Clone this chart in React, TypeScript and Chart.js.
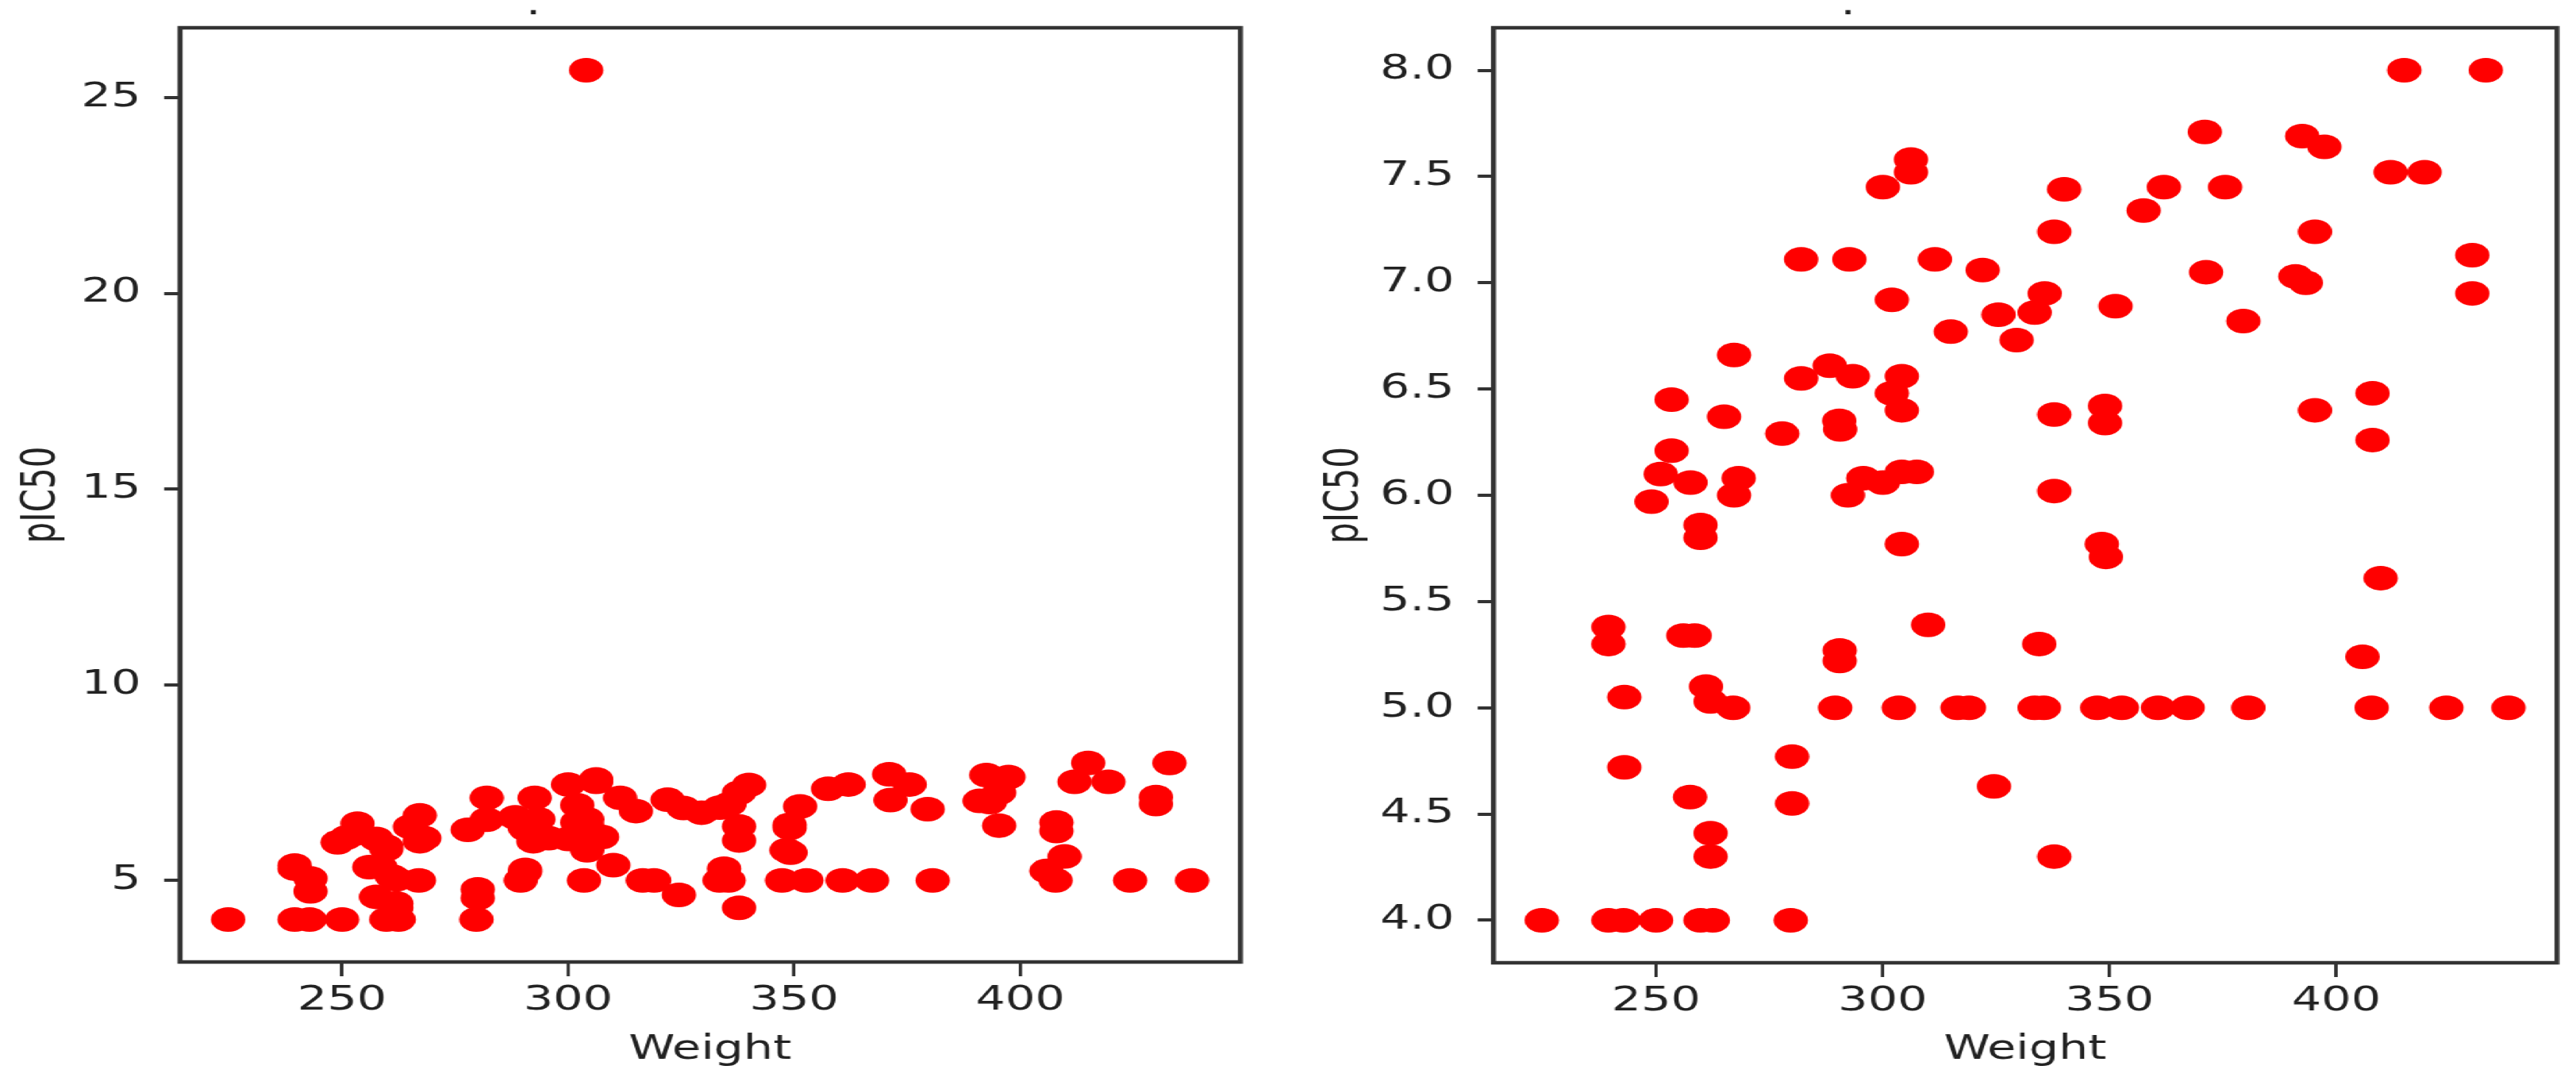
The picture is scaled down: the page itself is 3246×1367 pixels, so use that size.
import React, { useEffect, useRef } from 'react';
import { Chart, registerables } from 'chart.js';

Chart.register(...registerables);

// ---------------- data ----------------
const weight = [
  224.8, 239.5, 242.8, 250.0, 259.8, 262.5, 279.7, 239.5, 239.5, 243.0,
  243.0, 256.0, 258.5, 261.0, 262.0, 267.0, 257.5, 262.0, 262.0, 280.0,
  280.0, 289.5, 290.5, 290.5, 303.5, 310.0, 316.5, 319.0, 324.5, 333.5,
  335.5, 334.5, 337.8, 347.3, 352.7, 360.7, 367.2, 380.6, 407.8, 424.3,
  438.0, 405.8, 409.8, 408.0, 408.0, 395.3, 395.3, 391.0, 393.3, 392.5,
  397.4, 415.0, 433.0, 412.0, 419.5, 430.0, 430.0, 371.0, 375.5, 362.0,
  357.5, 371.3, 379.5, 351.3, 349.0, 349.0, 348.3, 349.2, 340.0, 337.8,
  335.7, 333.5, 329.5, 325.5, 322.0, 315.0, 311.5, 337.8, 337.8, 306.2,
  306.2, 300.0, 302.0, 304.2, 302.0, 304.2, 300.0, 304.2, 307.5, 304.2,
  295.7, 292.3, 290.4, 290.6, 288.3, 293.4, 282.0, 282.0, 292.6, 277.8,
  267.2, 265.0, 268.2, 267.2, 253.4, 253.4, 251.0, 257.6, 249.0, 259.8,
  259.8,
];
const pIC50 = [
  4.0, 4.0, 4.0, 4.0, 4.0, 4.0, 4.0, 5.38, 5.30, 5.05,
  4.72, 5.34, 5.34, 5.10, 5.03, 5.0, 4.58, 4.41, 4.30, 4.77,
  4.55, 5.0, 5.27, 5.22, 5.0, 5.39, 5.0, 5.0, 4.63, 5.0,
  5.0, 5.30, 4.30, 5.0, 5.0, 5.0, 5.0, 5.0, 5.0, 5.0,
  5.0, 5.24, 5.61, 6.26, 6.48, 6.40, 7.24, 7.03, 7.00, 7.69,
  7.64, 8.0, 8.0, 7.52, 7.52, 7.13, 6.95, 7.71, 7.45, 7.45,
  7.34, 7.05, 6.82, 6.89, 6.42, 6.34, 5.77, 5.71, 7.44, 7.24,
  6.95, 6.86, 6.73, 6.85, 7.06, 6.77, 7.11, 6.38, 6.02, 7.58,
  7.52, 7.45, 6.92, 6.56, 6.48, 6.40, 6.06, 6.11, 6.11, 5.77,
  6.08, 6.00, 6.35, 6.31, 6.61, 6.56, 6.55, 7.11, 7.11, 6.29,
  6.66, 6.37, 6.08, 6.00, 6.45, 6.21, 6.10, 6.06, 5.97, 5.86,
  5.80,
];
// the single extreme value shown only in the left panel
const outlierWeight = [304.0];
const outlierPIC50 = [25.7];

const xTicks = [250, 300, 350, 400];
const yTicksLeft = [5, 10, 15, 20, 25];
const yTicksRight = [4.0, 4.5, 5.0, 5.5, 6.0, 6.5, 7.0, 7.5, 8.0];
const xLabel = 'Weight';
const yLabel = 'pIC50';

// ---------------- layout ----------------
const PAGE_W = 3246;
const PAGE_H = 1367;
const STRETCH = 1.4; // the reference is stretched horizontally
const INNER_W = PAGE_W / STRETCH;
const FONT_FAMILY = "'DejaVu Sans', sans-serif";
const FONT_SIZE = 42;
const TEXT_COLOR = '#222';
const LINE_COLOR = '#333';
const DOT_COLOR = '#ff0000';

function autoLimits(vals: number[]): [number, number] {
  const mn = Math.min(...vals);
  const mx = Math.max(...vals);
  const m = (mx - mn) * 0.05;
  return [mn - m, mx + m];
}

const framePlugin = {
  id: 'frame',
  afterDraw(chart: any) {
    const { ctx, chartArea: a } = chart;
    ctx.save();
    ctx.strokeStyle = LINE_COLOR;
    ctx.lineWidth = 4.5;
    ctx.strokeRect(a.left, a.top, a.right - a.left, a.bottom - a.top);
    ctx.fillStyle = TEXT_COLOR;
    ctx.font = `${FONT_SIZE}px ${FONT_FAMILY}`;
    ctx.textAlign = 'center';
    ctx.textBaseline = 'alphabetic';
    ctx.fillText('.', a.left + (a.right - a.left) / 3, 18);
    ctx.restore();
  },
};

interface PanelCfg {
  xs: number[];
  ys: number[];
  yTicks: number[];
  yDecimals: number;
  yAxisWidth: number;
  xAxisHeight: number;
  padRight: number;
  yTitlePad: number;
}

function makeConfig(c: PanelCfg): any {
  const points = c.xs.map((x, i) => ({ x, y: c.ys[i] }));
  const [xmin, xmax] = autoLimits(c.xs);
  const [ymin, ymax] = autoLimits(c.ys);
  const font = { family: FONT_FAMILY, size: FONT_SIZE };
  return {
    type: 'scatter',
    data: {
      datasets: [
        {
          data: points,
          backgroundColor: DOT_COLOR,
          borderWidth: 0,
          pointRadius: 15.5,
          pointHoverRadius: 15.5,
        },
      ],
    },
    options: {
      animation: false,
      responsive: true,
      maintainAspectRatio: false,
      events: [],
      layout: { padding: { top: 35, right: c.padRight, bottom: 0, left: 0 } },
      plugins: { legend: { display: false }, tooltip: { enabled: false } },
      scales: {
        x: {
          type: 'linear',
          min: xmin,
          max: xmax,
          afterFit: (s: any) => {
            s.height = c.xAxisHeight;
            s.paddingLeft = 0;
            s.paddingRight = 0;
          },
          afterBuildTicks: (s: any) => {
            s.ticks = xTicks.map((v) => ({ value: v }));
          },
          grid: {
            display: true,
            drawOnChartArea: false,
            drawTicks: true,
            tickLength: 18,
            color: LINE_COLOR,
            lineWidth: 3,
          },
          border: { display: false },
          ticks: {
            color: TEXT_COLOR,
            font,
            padding: 6,
            maxRotation: 0,
            autoSkip: false,
            callback: (v: any) => String(v),
          },
          title: {
            display: true,
            text: xLabel,
            color: TEXT_COLOR,
            font,
            padding: { top: 0, bottom: 19 },
          },
        },
        y: {
          type: 'linear',
          min: ymin,
          max: ymax,
          afterFit: (s: any) => {
            s.width = c.yAxisWidth;
            s.paddingTop = 0;
            s.paddingBottom = 0;
          },
          afterBuildTicks: (s: any) => {
            s.ticks = c.yTicks.map((v) => ({ value: v }));
          },
          grid: {
            display: true,
            drawOnChartArea: false,
            drawTicks: true,
            tickLength: 14.3,
            color: LINE_COLOR,
            lineWidth: 4,
          },
          border: { display: false },
          ticks: {
            color: TEXT_COLOR,
            font,
            padding: 21,
            autoSkip: false,
            callback: (v: any) => Number(v).toFixed(c.yDecimals),
          },
          title: {
            display: true,
            text: yLabel,
            color: TEXT_COLOR,
            font,
            padding: { top: c.yTitlePad, bottom: 0 },
          },
        },
      },
    },
    plugins: [framePlugin],
  };
}

function Panel({ cfg, left, width }: { cfg: PanelCfg; left: number; width: number }) {
  const ref = useRef<HTMLCanvasElement | null>(null);
  useEffect(() => {
    if (!ref.current) return;
    const chart = new Chart(ref.current, makeConfig(cfg));
    return () => chart.destroy();
  }, []);
  return (
    <div style={{ position: 'absolute', left, top: 0, width, height: PAGE_H }}>
      <canvas ref={ref} />
    </div>
  );
}

const LEFT_W = 1171;
const RIGHT_W = Math.floor(INNER_W) - LEFT_W;

const leftCfg: PanelCfg = {
  xs: [...weight, ...outlierWeight],
  ys: [...pIC50, ...outlierPIC50],
  yTicks: yTicksLeft,
  yDecimals: 0,
  yAxisWidth: 162,
  xAxisHeight: PAGE_H - 1212,
  padRight: LEFT_W - 1116.4,
  yTitlePad: 13,
};

const rightCfg: PanelCfg = {
  xs: weight,
  ys: pIC50,
  yTicks: yTicksRight,
  yDecimals: 1,
  yAxisWidth: 1344.3 - LEFT_W,
  xAxisHeight: PAGE_H - 1213,
  padRight: LEFT_W + RIGHT_W - 2301.4,
  yTitlePad: 15,
};

export default function App() {
  useEffect(() => {
    document.body.style.margin = '0';
    document.documentElement.style.overflow = 'hidden';
    document.body.style.background = '#fff';
  }, []);
  Chart.defaults.font.family = FONT_FAMILY;
  return (
    <div style={{ position: 'relative', width: PAGE_W, height: PAGE_H, overflow: 'hidden', background: '#fff' }}>
      <div
        style={{
          position: 'absolute',
          left: 0,
          top: 0,
          width: INNER_W,
          height: PAGE_H,
          transform: `scaleX(${STRETCH})`,
          transformOrigin: '0 0',
        }}
      >
        <Panel cfg={leftCfg} left={0} width={LEFT_W} />
        <Panel cfg={rightCfg} left={LEFT_W} width={RIGHT_W} />
      </div>
    </div>
  );
}
